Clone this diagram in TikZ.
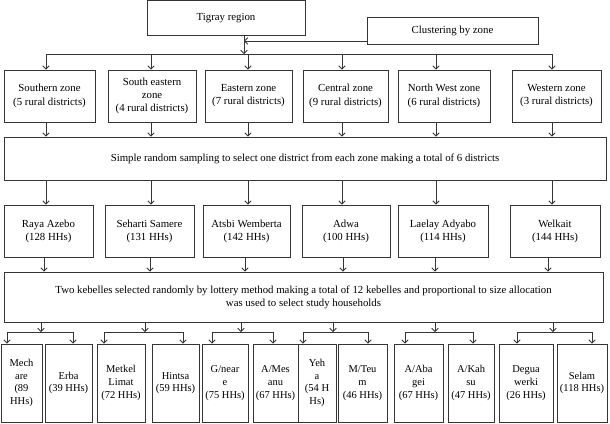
\documentclass[tikz,border=0pt]{standalone}
\usepackage{fontspec}
\setmainfont{Liberation Serif}
\usetikzlibrary{arrows.meta}
\definecolor{lc}{HTML}{353535}
\begin{document}
\begin{tikzpicture}[x=1pt,y=-1pt,
  box/.style={draw=lc, line width=0.85pt, inner sep=1pt, align=center,
    font=\fontsize{10.8}{13.2}\selectfont},
  kb/.style={box, font=\fontsize{10.5}{12.7}\selectfont},
  arr/.style={draw=lc, line width=0.85pt, -{Straight Barb[length=3.2pt,width=6.5pt]}},
  ln/.style={draw=lc, line width=0.85pt}]
\useasboundingbox (0,0) rectangle (610,423);

% top
\node[box, minimum width=158pt, minimum height=34.5pt] (tig) at (226,17.75) {Tigray region};
\node[box, minimum width=171pt, minimum height=27pt] (clu) at (452.5,30.5) {Clustering by zone};
\coordinate (tb) at (244,35);
\coordinate (hm) at (244,54);
\coordinate (cj) at (244,41);
\coordinate (cw) at (367,41);
\draw[arr] (tb) -- (hm);
\draw[arr] (cw) -- (cj);

% zones
\node[box, minimum width=91pt, minimum height=52pt] (z1) at (49.5,96) {Southern zone\\(5 rural districts)};
\node[box, minimum width=88pt, minimum height=52pt] (z2) at (152,96) {South eastern\\zone\\(4 rural districts)};
\node[box, minimum width=87pt, minimum height=52pt] (z3) at (248.5,96) {Eastern zone\\(7 rural districts)};
\node[box, minimum width=85pt, minimum height=52pt] (z4) at (345.5,96) {Central zone\\(9 rural districts)};
\node[box, minimum width=92pt, minimum height=52pt] (z5) at (444,96) {North West zone\\(6 rural districts)};
\node[box, minimum width=89pt, minimum height=52pt] (z6) at (556.5,96) {Western zone\\(3 rural districts)};

\coordinate (h1) at (46,54);
\coordinate (h2) at (151,54);
\coordinate (h3) at (248,54);
\coordinate (h4) at (342,54);
\coordinate (h5) at (436,54);
\coordinate (h6) at (552,54);
\draw[ln] (h1) -- (h6);
\foreach \i in {1,...,6} {\draw[arr] (h\i) -- (h\i |- z\i.north);}

% sampling
\node[box, minimum width=602pt, minimum height=43pt] (smp) at (305,158.5)
  {Simple random sampling to select one district from each zone making a total of 6 districts};
\foreach \i in {1,...,6} {\draw[arr] (h\i |- z\i.south) -- (h\i |- smp.north);}

% districts
\node[box, minimum width=89pt, minimum height=52pt] (d1) at (48.5,231) {Raya Azebo\\(128 HHs)};
\node[box, minimum width=89pt, minimum height=52pt] (d2) at (149.5,231) {Seharti Samere\\(131 HHs)};
\node[box, minimum width=87pt, minimum height=52pt] (d3) at (246.5,231) {Atsbi Wemberta\\(142 HHs)};
\node[box, minimum width=88pt, minimum height=52pt] (d4) at (346,231) {Adwa\\(100 HHs)};
\node[box, minimum width=90pt, minimum height=52pt] (d5) at (443,231) {Laelay Adyabo\\(114 HHs)};
\node[box, minimum width=90pt, minimum height=52pt] (d6) at (555,231) {Welkait\\(144 HHs)};
\foreach \i in {1,...,6} {\draw[arr] (h\i |- smp.south) -- (h\i |- d\i.north);}

% kebelle
\node[box, minimum width=599pt, minimum height=50pt] (keb) at (303.5,297)
  {Two kebelles selected randomly by lottery method making a total of 12 kebelles and proportional to size allocation\\was used to select study households};
\coordinate (k1) at (44,0);
\coordinate (k2) at (150,0);
\coordinate (k3) at (245,0);
\coordinate (k4) at (343,0);
\coordinate (k5) at (435,0);
\coordinate (k6) at (548,0);
\foreach \i in {1,...,6} {\draw[arr] (k\i |- d\i.south) -- (k\i |- keb.north);}

% bottom boxes
\node[kb, minimum width=41pt, minimum height=78pt] (b1) at (21.5,383) {Mech\\are\\(89\\HHs)};
\node[kb, minimum width=47pt, minimum height=78pt] (b2) at (68.5,383) {Erba\\(39 HHs)};
\node[kb, minimum width=48pt, minimum height=78pt] (b3) at (121,383) {Metkel\\Limat\\(72 HHs)};
\node[kb, minimum width=47pt, minimum height=78pt] (b4) at (175.5,383) {Hintsa\\(59 HHs)};
\node[kb, minimum width=46pt, minimum height=78pt] (b5) at (225,383) {G/near\\e\\(75 HHs)};
\node[kb, minimum width=45pt, minimum height=78pt] (b6) at (275.5,383) {A/Mes\\anu\\(67 HHs)};
\node[kb, minimum width=38pt, minimum height=78pt] (b7) at (317,383) {Yeh\\a\\(54 H\\Hs)};
\node[kb, minimum width=49pt, minimum height=78pt] (b8) at (362.5,383) {M/Teu\\m\\(46 HHs)};
\node[kb, minimum width=49pt, minimum height=78pt] (b9) at (418.5,383) {A/Aba\\gei\\(67 HHs)};
\node[kb, minimum width=46pt, minimum height=78pt] (b10) at (471,383) {A/Kah\\su\\(47 HHs)};
\node[kb, minimum width=54pt, minimum height=78pt] (b11) at (526,383) {Degua\\werki\\(26 HHs)};
\node[kb, minimum width=50pt, minimum height=78pt] (b12) at (582,383) {Selam\\(118 HHs)};

% splits
\coordinate (s1) at (41,332);
\coordinate (s2) at (145,332);
\coordinate (s3) at (241,332);
\coordinate (s4) at (333,332);
\coordinate (s5) at (435,332);
\coordinate (s6) at (553,332);
\coordinate (l1) at (7,332);    \coordinate (r1) at (73,332);
\coordinate (l2) at (104,332);  \coordinate (r2) at (183,332);
\coordinate (l3) at (212,332);  \coordinate (r3) at (273,332);
\coordinate (l4) at (303,332);  \coordinate (r4) at (368,332);
\coordinate (l5) at (405,332);  \coordinate (r5) at (473,332);
\coordinate (l6) at (517,332);  \coordinate (r6) at (592,332);
\foreach \i [evaluate=\i as \a using int(2*\i-1), evaluate=\i as \b using int(2*\i)] in {1,...,6} {
  \draw[arr] (s\i |- keb.south) -- (s\i);
  \draw[ln] (l\i) -- (r\i);
  \draw[arr] (l\i) -- (l\i |- b\a.north);
  \draw[arr] (r\i) -- (r\i |- b\b.north);
}
\end{tikzpicture}
\end{document}
